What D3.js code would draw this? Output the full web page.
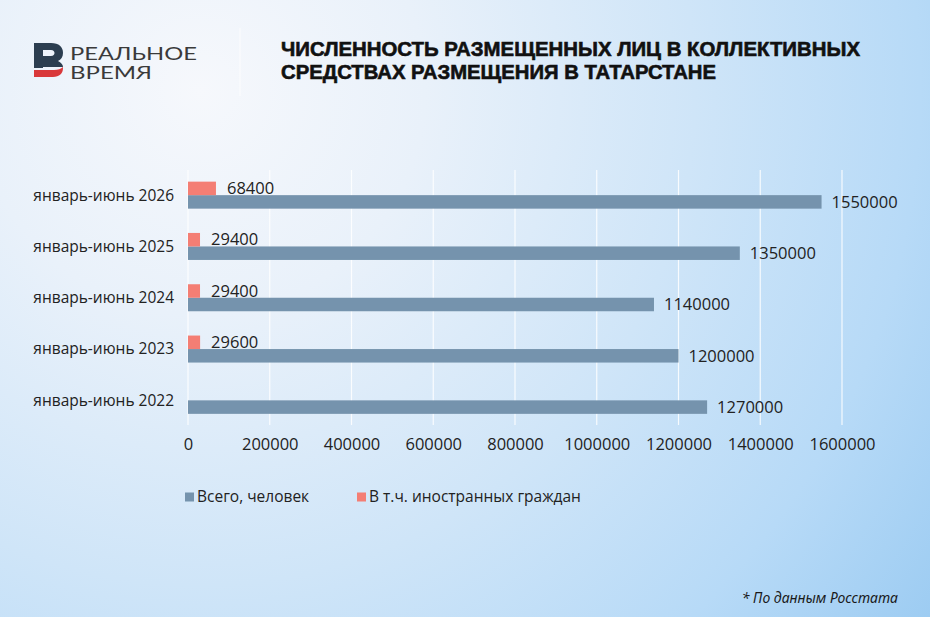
<!DOCTYPE html>
<html>
<head>
<meta charset="utf-8">
<script src="https://cdn.jsdelivr.net/npm/d3@7"></script>
<style>
  html, body { margin: 0; padding: 0; }
  body { width: 930px; height: 617px; overflow: hidden; }
  svg { display: block; }
</style>
</head>
<body>
<div id="chart"></div>
<script>
const categories = ['январь-июнь 2026', 'январь-июнь 2025', 'январь-июнь 2024', 'январь-июнь 2023', 'январь-июнь 2022'];
const totalValues = [1550000, 1350000, 1140000, 1200000, 1270000];
const foreignValues = [68400, 29400, 29400, 29600, null];
const xTicks = [0, 200000, 400000, 600000, 800000, 1000000, 1200000, 1400000, 1600000];
const seriesNames = ['Всего, человек', 'В т.ч. иностранных граждан'];
const titleLines = ['ЧИСЛЕННОСТЬ РАЗМЕЩЕННЫХ ЛИЦ В КОЛЛЕКТИВНЫХ', 'СРЕДСТВАХ РАЗМЕЩЕНИЯ В ТАТАРСТАНЕ'];

const width = 930;
const height = 617;
const blue = '#7593ad';
const red = '#f47e74';
const textColor = '#222';
const labelFont = '"Open Sans", "Noto Sans", sans-serif';

const svg = d3.select('#chart').append('svg')
  .attr('width', width)
  .attr('height', height);

// background
const defs = svg.append('defs');
const bg = defs.append('radialGradient').attr('id', 'bg-gradient')
  .attr('gradientUnits', 'userSpaceOnUse')
  .attr('cx', 200).attr('cy', 90).attr('r', 900);
bg.append('stop').attr('offset', '0%').attr('stop-color', '#f6f8fc');
bg.append('stop').attr('offset', '25%').attr('stop-color', '#e9f1fa');
bg.append('stop').attr('offset', '55%').attr('stop-color', '#cfe5f8');
bg.append('stop').attr('offset', '80%').attr('stop-color', '#b7daf7');
bg.append('stop').attr('offset', '100%').attr('stop-color', '#9dccf2');
svg.append('rect').attr('width', width).attr('height', height).attr('fill', 'url(#bg-gradient)');

// header: logo
const logo = svg.append('g').attr('transform', 'translate(34,43)');
logo.append('path')
  .attr('fill', '#2c3e50')
  .attr('fill-rule', 'evenodd')
  .attr('d', 'M0,0 H17 C25,0 29,4 29,10 C29,14 27,16.5 24,18 C27,19.5 29,21.5 29,24 L9,24 V25 H0 Z M9,7 H17 C19.5,7 20.5,8.5 20.5,10 C20.5,11.5 19.5,13 17,13 H9 Z');
logo.append('path')
  .attr('fill', '#d9383a')
  .attr('d', 'M0,27 H20 C24,27 27,26 29,24 L29,25 C29,30.5 25.5,34 19,34 H0 Z');
const logoWords = ['РЕАЛЬНОЕ', 'ВРЕМЯ'];
const logoWidths = [127, 82];
svg.append('g').selectAll('text')
  .data(logoWords)
  .join('text')
  .attr('x', 70)
  .attr('y', (d, i) => 59.5 + i * 19)
  .attr('font-family', 'Lato, "Noto Sans", sans-serif')
  .attr('font-size', 17)
  .attr('fill', '#3a3a3a')
  .attr('textLength', (d, i) => logoWidths[i])
  .attr('lengthAdjust', 'spacingAndGlyphs')
  .text((d) => d);

svg.append('line')
  .attr('x1', 240).attr('x2', 240).attr('y1', 28).attr('y2', 96)
  .attr('stroke', '#ffffff').attr('stroke-opacity', 0.8).attr('stroke-width', 1);

// title
const titleWidths = [579, 435];
svg.append('g').selectAll('text')
  .data(titleLines)
  .join('text')
  .attr('x', 281)
  .attr('y', (d, i) => 56 + i * 22.5)
  .attr('font-family', '"Liberation Sans", Arial, sans-serif')
  .attr('font-weight', 700)
  .attr('font-size', 20)
  .attr('fill', '#111')
  .attr('stroke', '#111')
  .attr('stroke-width', 0.6)
  .attr('textLength', (d, i) => titleWidths[i])
  .attr('lengthAdjust', 'spacingAndGlyphs')
  .text((d) => d);

// scales
const x = d3.scaleLinear().domain([0, 1600000]).range([188, 842]);
const y = d3.scaleBand().domain(categories).range([169.5, 426]).padding(0);
const barH = 13.5;

const rows = categories.map((c, i) => ({ category: c, total: totalValues[i], foreign: foreignValues[i] }));

// grid
svg.append('g').selectAll('line')
  .data(xTicks)
  .join('line')
  .attr('x1', (d) => x(d)).attr('x2', (d) => x(d))
  .attr('y1', 170).attr('y2', 425)
  .attr('stroke', '#ffffff').attr('stroke-opacity', 0.85).attr('stroke-width', 1.2);

// x axis labels
const axisX = svg.append('g')
  .attr('transform', 'translate(0,444)')
  .call(d3.axisBottom(x).tickValues(xTicks).tickFormat(d3.format('d')).tickSize(0).tickPadding(0));
axisX.select('.domain').remove();
axisX.selectAll('text')
  .attr('font-family', labelFont)
  .attr('font-size', 16.5)
  .attr('fill', textColor)
  .attr('dy', '0.35em');

// category labels
svg.append('g').selectAll('text')
  .data(categories)
  .join('text')
  .attr('x', 174)
  .attr('y', (d) => y(d) + y.bandwidth() / 2)
  .attr('dy', '0.35em')
  .attr('text-anchor', 'end')
  .attr('font-family', labelFont)
  .attr('font-size', 15.5)
  .attr('fill', textColor)
  .text((d) => d);

// bars
const center = (d) => y(d.category) + y.bandwidth() / 2;

svg.append('g').selectAll('rect')
  .data(rows)
  .join('rect')
  .attr('x', x(0))
  .attr('y', (d) => center(d))
  .attr('width', (d) => x(d.total) - x(0))
  .attr('height', barH)
  .attr('fill', blue);

const foreignRows = rows.filter((d) => d.foreign != null);
svg.append('g').selectAll('rect')
  .data(foreignRows)
  .join('rect')
  .attr('x', x(0))
  .attr('y', (d) => center(d) - barH)
  .attr('width', (d) => x(d.foreign) - x(0))
  .attr('height', barH)
  .attr('fill', red);

// value labels
svg.append('g').selectAll('text')
  .data(rows)
  .join('text')
  .attr('x', (d) => x(d.total) + 10)
  .attr('y', (d) => center(d) + barH / 2)
  .attr('dy', '0.35em')
  .attr('font-family', labelFont)
  .attr('font-size', 16.5)
  .attr('fill', textColor)
  .text((d) => d.total);

svg.append('g').selectAll('text')
  .data(foreignRows)
  .join('text')
  .attr('x', (d) => x(d.foreign) + 11)
  .attr('y', (d) => center(d) - barH / 2)
  .attr('dy', '0.35em')
  .attr('font-family', labelFont)
  .attr('font-size', 16.5)
  .attr('fill', textColor)
  .text((d) => d.foreign);

// legend
const legendX = [185, 357];
const legend = svg.append('g').selectAll('g')
  .data(seriesNames)
  .join('g')
  .attr('transform', (d, i) => `translate(${legendX[i]},497)`);
legend.append('rect')
  .attr('x', 0).attr('y', -4.5)
  .attr('width', 9).attr('height', 9)
  .attr('fill', (d, i) => (i === 0 ? blue : red));
legend.append('text')
  .attr('x', 12)
  .attr('dy', '0.35em')
  .attr('font-family', labelFont)
  .attr('font-size', 15.5)
  .attr('fill', textColor)
  .text((d) => d);

// footnote
svg.append('text')
  .attr('x', 898).attr('y', 603)
  .attr('text-anchor', 'end')
  .attr('font-family', '"Noto Sans", "Open Sans", sans-serif')
  .attr('font-style', 'italic')
  .attr('font-size', 14)
  .attr('fill', '#1a1a1a')
  .text('* По данным Росстата');
</script>
</body>
</html>
